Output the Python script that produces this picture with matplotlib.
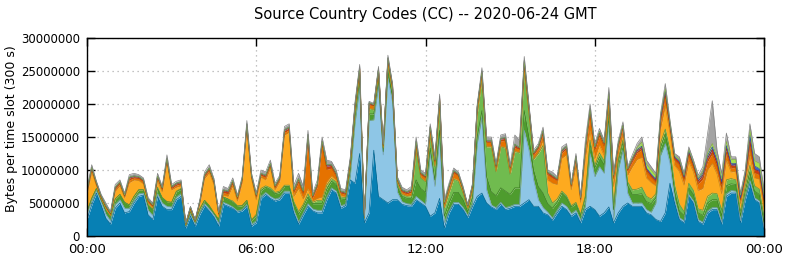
import numpy as np
import matplotlib
matplotlib.use('Agg')
import matplotlib.pyplot as plt
import matplotlib.colors as mcolors

# values in millions of bytes per 300 s slot, sampled every 10 minutes
slot_minutes = 10

blue = [
    2.5, 4.7, 6.5, 4.7, 2.7, 1.8, 4.2, 5.0, 3.5, 3.7,
    5.0, 6.0, 6.2, 3.2, 2.5, 6.0, 4.5, 4.0, 4.0, 5.5,
    6.0, 1.2, 3.0, 1.5, 3.3, 4.6, 3.8, 2.9, 1.5, 4.8,
    4.5, 4.2, 3.6, 3.8, 4.5, 1.5, 2.0, 5.7, 6.3, 5.7,
    5.3, 5.5, 6.5, 6.5, 3.5, 1.8, 3.2, 4.5, 3.8, 3.5,
    3.5, 5.5, 7.0, 6.5, 4.2, 4.6, 8.5, 8.0, 12.5, 2.0,
    3.5, 13.0, 6.0, 5.5, 5.0, 5.5, 5.5, 4.8, 4.6, 4.5,
    5.5, 5.0, 4.5, 3.0, 3.5, 5.7, 1.2, 3.5, 4.8, 4.8,
    4.0, 2.8, 4.5, 6.0, 6.5, 5.0, 4.4, 4.0, 4.8, 4.0,
    4.2, 4.5, 4.5, 5.0, 5.5, 4.5, 4.5, 3.5, 3.2, 2.4,
    3.5, 4.5, 4.0, 3.0, 3.5, 2.0, 4.0, 4.5, 4.0, 3.0,
    3.5, 4.4, 2.0, 3.5, 4.5, 5.0, 4.5, 4.5, 4.5, 3.5,
    3.2, 2.5, 2.2, 3.5, 8.0, 5.0, 2.5, 2.0, 6.0, 5.0,
    2.2, 1.8, 3.5, 4.0, 4.0, 1.8, 6.0, 6.5, 6.5, 2.0,
    5.5, 8.0, 5.5, 5.0, 1.0]

light_blue = [
    1.0, .6, .4, .5, .6, .5, .6, .5, .7, .5,
    .4, .4, .3, .7, .6, .4, .5, .5, .4, .4,
    .4, .2, .3, .3, .3, .3, .3, .3, .4, .3,
    .3, .2, .2, .2, .3, .3, .3, .3, .3, .3,
    .3, .3, .3, .3, .4, .3, .3, .4, .3, .4,
    .4, .4, .3, .3, .4, .2, .6, 9.0, 10.0, .5,
    14.0, 4.6, 16.8, 6.8, 19.0, 14.7, 1.2, .4, .3, .3,
    .5, .4, .3, 9.5, 4.0, 9.3, .8, .3, .3, .3,
    .3, .3, .5, 8.0, 11.5, 2.0, .3, .3, .3, .3,
    .3, .3, .3, 11.0, 7.5, 4.0, 1.0, .8, .4, .3,
    .4, .5, .5, .4, .4, .4, .5, 8.0, 5.0, 7.5,
    6.0, 13.0, .5, 6.5, 8.5, 1.5, .5, .5, .5, .5,
    .4, 2.5, 10.0, 10.5, 3.0, .5, .3, .3, .3, .3,
    .3, .3, .3, .3, .3, .3, .4, .4, .3, .3,
    .3, .4, .3, .3, .3]

dark_green = [
    .2, .4, .3, .3, .6, .6, .8, .8, .9, .5,
    .6, .6, .5, .8, .9, .8, .8, .7, .7, .8,
    .7, .2, .4, .3, .5, .5, .5, .3, .6, .8,
    .8, .7, .7, .6, .6, .6, .8, .9, .8, 1.0,
    .8, .8, .7, .7, 1.0, 1.2, 1.0, 1.0, .8, 1.0,
    1.0, 1.2, 1.0, 1.0, 1.0, .7, .9, 1.0, 1.2, .2,
    1.0, .9, .8, .5, 1.0, .9, .8, .8, .8, .9,
    2.5, 1.8, 1.8, .8, 1.0, 1.0, 1.0, 1.2, 1.5, 1.5,
    1.2, .6, .8, 1.0, 1.0, 2.0, 2.0, 1.8, 2.2, 2.5,
    1.8, 2.5, 2.5, 3.0, 2.0, 1.5, 2.0, 2.2, 1.3, 1.5,
    1.2, 1.5, 1.3, 1.0, 1.0, .7, 1.3, 1.5, 1.3, 1.5,
    1.3, .6, 1.5, 1.3, 1.2, 1.2, 1.3, 1.3, 1.4, 1.2,
    1.3, .8, 1.2, 1.5, 1.3, 1.3, 1.0, .8, 1.0, 1.0,
    1.0, 1.0, 1.2, 1.2, 1.2, 1.0, 1.2, 1.0, 1.0, .8,
    1.0, 1.3, 1.0, 1.0, .8]

green = [
    0, 0, 0, 0, 0, 0, 0, 0, 0, 0,
    0, 0, 0, 0, 0, .2, 0, 0, 0, .1,
    .1, 0, 0, 0, 0, 0, 0, 0, 0, 0,
    0, .2, .1, 0, 0, 0, .2, .3, .2, .3,
    .2, .2, .2, .2, .3, .4, .3, .5, .2, .5,
    .5, .6, .4, .4, .3, .3, .6, .8, .9, .1,
    .8, .6, .8, .5, .8, .8, .5, .3, .3, .4,
    4.5, 1.6, 1.6, 2.0, 2.0, 3.6, 1.2, 1.5, 2.0, 1.7,
    1.0, .4, 1.1, 3.5, 4.8, 4.5, 6.8, 3.6, 6.2, 6.5,
    3.0, 5.5, 5.3, 6.0, 3.5, 1.6, 5.0, 7.2, 1.6, .8,
    .5, .3, .3, .2, .2, .2, .3, .5, .4, .6,
    .6, 1.0, .5, .4, .4, .5, .7, .8, 1.0, .8,
    .7, .6, .7, .7, .8, .9, 1.0, .6, .7, .6,
    .6, .8, 1.0, 1.0, .9, .8, .9, .8, .7, .6,
    .7, 1.0, .8, .8, .8]

yellow = [
    2.6, 4.0, .4, .2, .3, .2, 1.2, 1.3, .7, 3.4,
    2.5, 1.4, .9, .3, .3, 1.0, .9, 6.0, 1.9, .6,
    .4, .1, .3, .1, .8, 3.3, 5.0, 4.3, .6, .3,
    .4, 2.3, .7, 3.5, 10.8, 6.2, 2.2, 1.7, .9, 3.0,
    .4, 1.5, 7.6, 8.0, .8, 3.5, .8, .8, .2, .3,
    .5, .5, .4, .3, .2, .2, .2, .2, .2, 0,
    .1, .1, .1, .1, .1, .1, .2, .1, .1, .1,
    .1, .1, .1, .1, .1, .1, .1, .2, .2, .2,
    .1, .1, .1, .1, .1, .1, .1, .1, .1, .2,
    .2, .1, .1, .1, .1, .1, .2, .8, 2.0, 3.0,
    2.2, 5.0, 6.2, 2.4, 5.5, 1.8, 5.8, 1.5, 1.0, 1.2,
    .8, .8, 3.0, .8, .8, 1.0, 3.5, 4.5, 4.5, 2.8,
    2.5, 1.2, 2.2, 3.5, 2.5, 3.0, 5.0, 4.0, 3.3, 2.8,
    2.8, 3.3, 4.0, 4.5, 3.0, 2.5, 3.0, 1.0, 1.3, 1.2,
    .8, 1.5, 1.2, 1.5, 1.5]

orange = [
    .3, .4, .2, .2, .2, .2, .3, .3, .2, .4,
    .3, .3, .3, .2, .2, .4, .3, .3, .2, .3,
    .3, .1, .2, .1, .2, .3, .4, .3, .2, .4,
    .4, .4, .3, .3, .4, .3, .4, .3, .4, .4,
    .3, .3, .4, .4, .6, 1.0, .8, 7.6, .5, 1.8,
    8.0, 1.9, 1.2, .6, .4, .3, .5, .6, .5, .1,
    .5, .5, .6, .3, .7, .5, .3, .3, .3, .4,
    .8, .4, .5, .8, .6, 1.0, .5, .6, .8, .6,
    .4, .3, .5, .8, .8, .6, .6, .6, .8, 1.0,
    .7, .5, .4, 1.0, .8, .6, .6, 1.0, .8, .8,
    .6, .8, .9, .5, 1.0, .4, 1.0, 2.5, 1.3, 1.4,
    1.4, 1.3, 1.2, 1.0, 1.0, .7, .8, 1.0, 1.2, 1.0,
    .8, .5, 1.0, 1.5, .8, .8, 1.0, .8, 1.0, .8,
    1.0, 1.5, 1.3, 1.5, 1.2, 1.0, 1.2, .6, .6, .5,
    .5, 1.5, .8, .7, .7]

red = [
    .2, .2, .2, .1, .1, .1, .2, .2, .1, .3,
    .2, .2, .2, .2, .1, .2, .2, .2, .2, .2,
    .2, .1, .1, .1, .1, .2, .2, .2, .1, .3,
    .3, .3, .2, .2, .3, .2, .2, .2, .2, .2,
    .2, .2, .3, .3, .3, .4, .3, .4, .2, .3,
    .4, .5, .4, .3, .2, .2, .2, .2, .2, .05,
    .2, .1, .2, .1, .3, .2, .1, .2, .2, .3,
    .3, .2, .2, .3, .2, .3, .2, .2, .2, .2,
    .1, .1, .2, .2, .2, .2, .2, .2, .3, .3,
    .2, .3, .2, .3, .2, .2, .2, .3, .3, .3,
    .2, .3, .3, .2, .4, .2, .4, .6, .4, .4,
    .4, .4, .4, .4, .3, .2, .3, .3, .3, .3,
    .3, .3, .5, .6, .4, .3, .4, .3, .4, .3,
    .4, .5, .5, .6, .5, .5, .6, .4, .4, .3,
    .3, .8, .5, .5, .4]

navy = [
    .1, .1, .1, .1, .1, .1, .1, .1, .1, .1,
    .1, .1, .1, .1, .1, .1, .1, .1, .1, .1,
    .1, 0, .1, 0, .1, .1, .1, .1, .1, .1,
    .1, .1, .1, .1, .1, .1, .1, .1, .1, .1,
    .1, .1, .1, .1, .1, .1, .1, .2, .1, .1,
    .1, .2, .1, .1, .1, .1, .1, .1, .1, 0,
    .1, .1, .1, .05, .1, .1, .1, .1, .1, .1,
    .2, .1, .1, .1, .1, .1, .1, .1, .1, .1,
    .1, .05, .1, .1, .1, .1, .1, .1, .1, .1,
    .1, .2, .1, .2, .1, .1, .1, .2, .1, .1,
    .1, .1, .1, .1, .1, .1, .1, .2, .1, .2,
    .1, .2, .1, .1, .1, .1, .2, .2, .2, .2,
    .2, .2, .2, .2, .2, .2, .2, .2, .2, .2,
    .3, .3, .4, .4, .4, .3, .4, .3, .2, .1,
    .2, .8, .5, .4, .3]

light_green = [
    0, 0, 0, 0, 0, 0, 0, 0, 0, 0,
    0, 0, 0, 0, 0, 0, 0, 0, 0, 0,
    0, 0, 0, 0, 0, 0, 0, 0, 0, 0,
    0, 0, 0, 0, 0, 0, 0, 0, 0, 0,
    0, 0, 0, 0, 0, 0, 0, 0, 0, 0,
    0, 0, 0, 0, 0, 0, 0, 0, 0, 0,
    0, 0, 0, 0, 0, 0, 0, 0, 0, 0,
    0, 0, 0, 0, 0, 0, 0, 0, 0, 0,
    0, 0, 0, 0, 0, 0, 0, 0, 0, 0,
    0, 0, 0, 0, 0, 0, 0, 0, 0, 0,
    0, 0, 0, 0, 0, 0, 0, 0, 0, 0,
    0, 0, 0, 0, 0, 0, 0, .3, .6, .6,
    .6, .5, .3, .3, .2, .2, .2, .2, .2, .2,
    .2, .3, .4, .5, .5, .5, .6, .6, .6, .4,
    .4, .8, .8, .8, .5]

gray = [
    .4, .4, .2, .2, .4, .2, .4, .3, .3, .4,
    .4, .3, .3, .3, .3, .4, .2, .5, .3, .3,
    .3, .1, .1, .1, .2, .4, .5, .3, .2, .5,
    .4, .4, .3, .3, .5, .3, .3, .5, .5, .5,
    .4, .3, .5, .5, .7, .8, .7, .6, .4, .6,
    .6, .7, .5, .5, .4, .4, .4, .4, .4, .03,
    .2, .2, .3, .15, .4, .2, .3, .4, .3, .5,
    .6, .4, .4, .4, .5, .4, .4, .4, .4, .3,
    .3, .05, .2, .3, .5, .5, .5, .3, .5, .6,
    .3, 1.4, 1.1, .6, .3, .4, .4, .5, .3, .5,
    .3, .5, .4, .2, .4, .2, 1.1, .7, .5, .5,
    .4, .8, .3, .5, .5, .3, .5, .6, .8, .6,
    .5, .4, .3, .8, .3, .3, .4, .3, .4, .3,
    .4, .7, 2.9, 6.5, 1.0, .8, 1.3, .4, .4, .3,
    .3, .9, 1.1, 1.0, .7]

layers = [blue, light_blue, dark_green, green, yellow, orange, red, navy, light_green, gray]
colors = ['#0780b4', '#8ec6e6', '#4e9c2e', '#70bb4f', '#fdaa1f', '#e57200',
          '#cc3a12', '#3a62c8', '#a6e24e', '#a3a3a3']

xtick_hours = [0, 6, 12, 18, 24]
xtick_labels = ['00:00', '06:00', '12:00', '18:00', '00:00']
ytick_values = [0, 5000000, 10000000, 15000000, 20000000, 25000000, 30000000]

hours = np.arange(len(blue)) * slot_minutes / 60.0

fig = plt.figure(figsize=(7.86, 2.61), dpi=100)
ax = fig.add_axes([0.1107, 0.0958, 0.8613, 0.7586])

base = np.zeros(len(hours))
for vals, col in zip(layers, colors):
    top = base + np.array(vals) * 1e6
    edge = np.array(mcolors.to_rgb(col)) * 0.8
    ax.fill_between(hours, base, top, color=col, linewidth=0, zorder=2)
    ax.plot(hours, top, color=edge, linewidth=0.5, zorder=3)
    base = top

ax.set_xlim(0, 24)
ax.set_ylim(0, 30000000)
ax.set_xticks(xtick_hours)
ax.set_xticklabels(xtick_labels)
ax.set_yticks(ytick_values)
ax.ticklabel_format(style='plain', axis='y', useOffset=False)

ax.grid(True, color='#b0b0b0', linestyle=(0, (1, 3)), linewidth=0.9, zorder=1)
ax.set_axisbelow(True)
ax.tick_params(direction='in', length=6, width=1, top=True, right=True,
               pad=5, colors='black')
ax.tick_params(axis='x', labelsize=9.5)
ax.tick_params(axis='y', labelsize=8.5)
for s in ax.spines.values():
    s.set_linewidth(1.0)
    s.set_zorder(5)

ax.set_ylabel('Bytes per time slot (300 s)', fontsize=9)
ax.yaxis.set_label_coords(-0.102, 0.54)
ax.set_title('Source Country Codes (CC) -- 2020-06-24 GMT', fontsize=10.5, pad=14)

fig.savefig('out.png', dpi=100)
